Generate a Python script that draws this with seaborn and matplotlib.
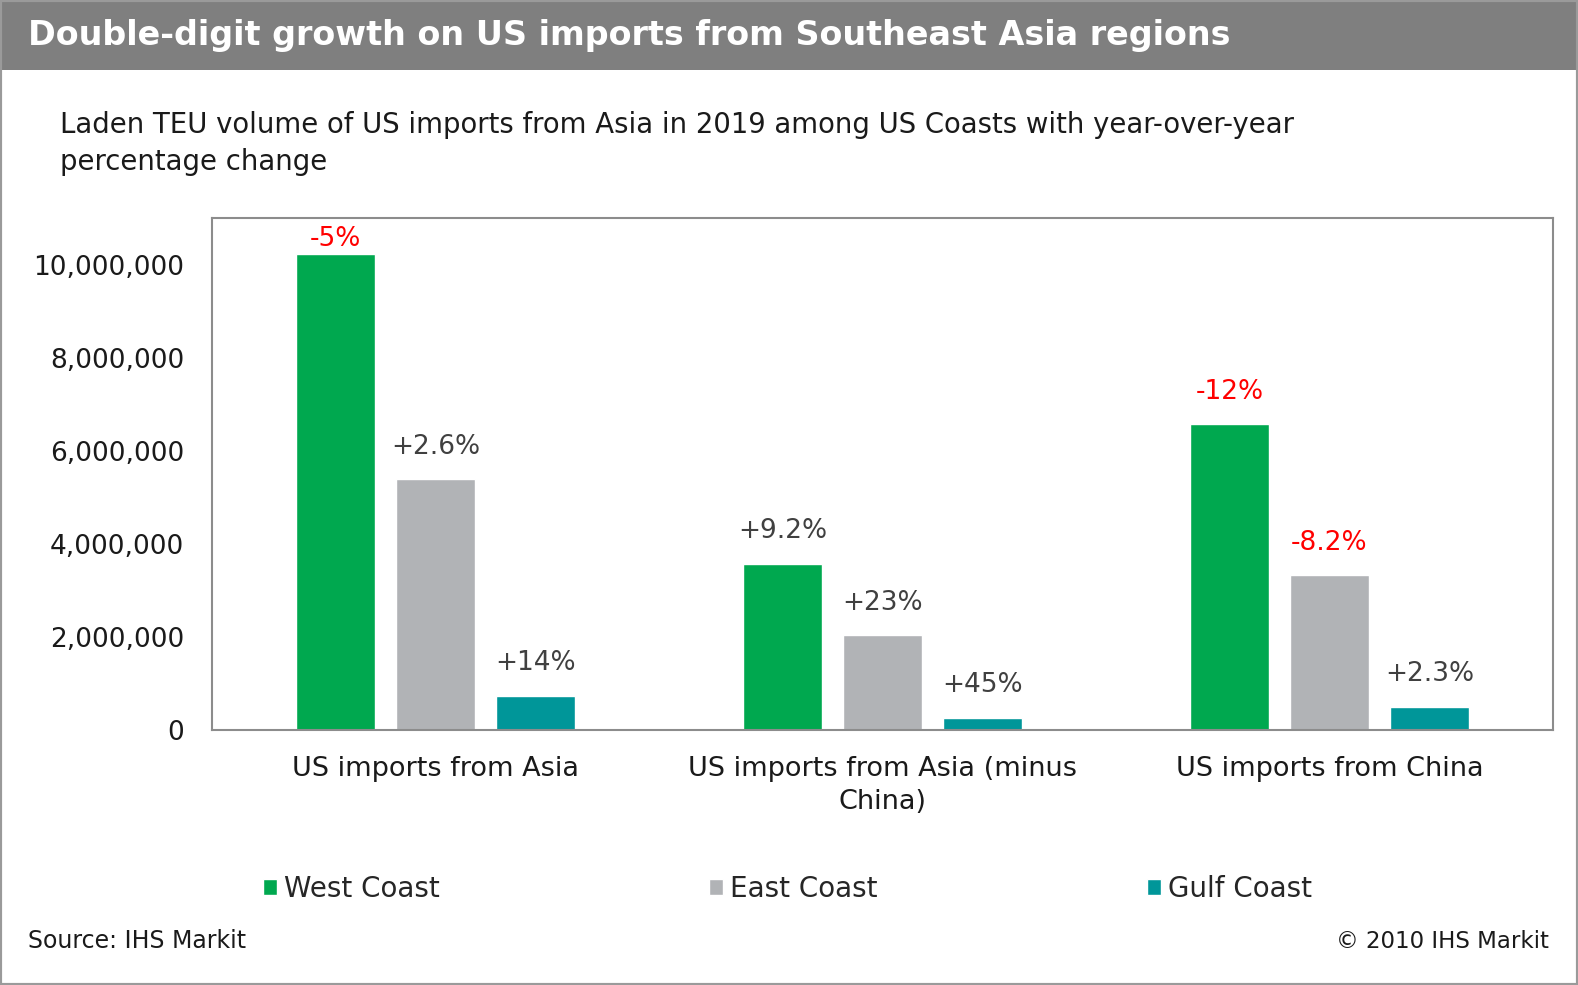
import numpy as np
import pandas as pd
import seaborn as sns
import matplotlib.pyplot as plt
from matplotlib.patches import Rectangle
from matplotlib.ticker import FuncFormatter

# Data (laden TEU, 2019)
categories = ['US imports from Asia', 'US imports from Asia (minus\nChina)', 'US imports from China']
coasts = ['West Coast', 'East Coast', 'Gulf Coast']
west = [10_220_000, 3_570_000, 6_570_000]
east = [5_390_000, 2_040_000, 3_330_000]
gulf = [740_000, 260_000, 500_000]
west_chg = ['-5%', '+9.2%', '-12%']
east_chg = ['+2.6%', '+23%', '-8.2%']
gulf_chg = ['+14%', '+45%', '+2.3%']
colors = ['#00A84F', '#B1B3B6', '#009699']

df = pd.DataFrame({
    'category': categories * 3,
    'coast': np.repeat(coasts, 3),
    'teu': west + east + gulf,
})

sns.set_theme(style='white')
plt.rcParams['font.family'] = ['DejaVu Sans']

fig = plt.figure(figsize=(15.78, 9.85), dpi=100)
W, H = 1578, 985

# header band and outer border
fig.add_artist(Rectangle((0, 1 - 70 / H), 1, 70 / H, transform=fig.transFigure,
                         facecolor='#7f7f7f', edgecolor='none', zorder=0))
fig.add_artist(Rectangle((0, 0), 1, 1, transform=fig.transFigure, fill=False,
                         edgecolor='#9a9a9a', lw=3, zorder=5))
fig.text(28 / W, 1 - 36 / H, 'Double-digit growth on US imports from Southeast Asia regions',
         color='white', fontsize=24, fontweight='bold', va='center', ha='left')
fig.text(60 / W, 1 - 111 / H,
         'Laden TEU volume of US imports from Asia in 2019 among US Coasts with year-over-year\npercentage change',
         fontsize=19.8, color='#1a1a1a', va='top', ha='left', linespacing=1.4)

ax = fig.add_axes([212 / W, 1 - 730 / H, (1553 - 212) / W, (730 - 218) / H])
sns.barplot(data=df, x='category', y='teu', hue='coast', hue_order=coasts,
            palette=colors, width=0.67, gap=0.21, saturation=1, ax=ax)
ax.set_ylim(0, 11_000_000)
ax.set_yticks(range(0, 10_000_001, 2_000_000))
ax.yaxis.set_major_formatter(FuncFormatter(lambda v, p: f'{int(v):,}'))
ax.set_xlabel('')
ax.set_ylabel('')
ax.tick_params(axis='y', length=0, pad=20, labelsize=19, labelcolor='#1a1a1a')
ax.tick_params(axis='x', length=0, pad=19, labelsize=19.5, labelcolor='#1a1a1a')
for lbl in ax.get_xticklabels():
    lbl.set_linespacing(1.35)
for s in ax.spines.values():
    s.set_visible(True)
    s.set_color('#8c8c8c')
    s.set_linewidth(1.5)

# year-over-year change labels
for cont, labs in zip(ax.containers, [west_chg, east_chg, gulf_chg]):
    texts = ax.bar_label(cont, labels=labs, padding=14, fontsize=19)
    for t, lab in zip(texts, labs):
        t.set_color('#ff0000' if lab.startswith('-') else '#404040')
# first label sits tight under the frame
ax.texts[0].xyann = (0, 2)

handles, labels = ax.get_legend_handles_labels()
ax.get_legend().remove()
fig.legend(handles, labels, ncol=3, loc='center left',
           bbox_to_anchor=(263 / W, 1 - 889 / H), frameon=False, fontsize=20,
           handlelength=0.5, handleheight=0.5, handletextpad=0.25,
           columnspacing=9.7, borderpad=0, borderaxespad=0)

fig.text(28 / W, 1 - 941 / H, 'Source: IHS Markit', fontsize=17, color='#1a1a1a', va='center')
fig.text(1549 / W, 1 - 941 / H, '\u00a9 2010 IHS Markit', fontsize=16.5, color='#1a1a1a',
         va='center', ha='right')

fig.savefig('out.png', dpi=100)
